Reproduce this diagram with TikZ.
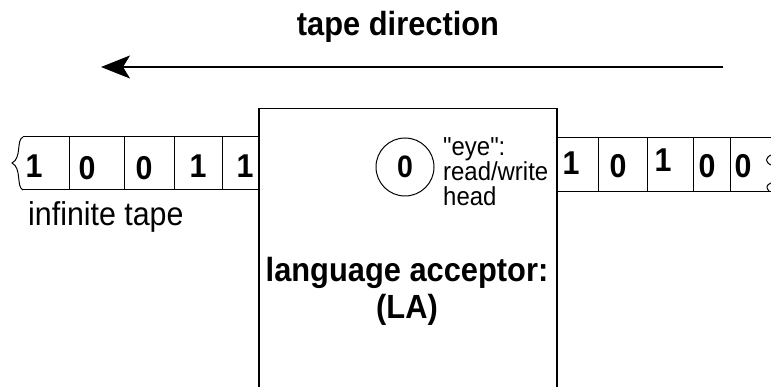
\documentclass[tikz,border=0pt]{standalone}
\usepackage{fontspec}
\setmainfont[Ligatures=TeXOff,FakeStretch=0.92]{Liberation Sans}
\usetikzlibrary{arrows.meta}
\begin{document}
\begin{tikzpicture}[x=1pt,y=-1pt,
  tapeline/.style={line width=1pt},
  boxline/.style={line width=1.5pt},
  digit/.style={font=\fontsize{33}{33}\selectfont\bfseries, inner sep=0pt, anchor=base},
  plaintext/.style={inner sep=0pt},
]
\useasboundingbox (0,0) rectangle (771,387);
\clip (0,0) rectangle (771,387);

% title and direction arrow
\node[plaintext, anchor=base, font=\fontsize{33.5}{37}\selectfont\bfseries] (title) at (398,36) {tape direction};
\coordinate (arrS) at (723,67);
\coordinate (arrE) at (101,67);
\draw[line width=1.5pt, -{Stealth[length=29pt,width=23pt,inset=7pt]}] (arrS) -- (arrE);

% language acceptor box (open at the bottom, runs off the picture)
\node[draw, boxline, minimum width=298pt, minimum height=300pt, anchor=north west, inner sep=0pt] (la) at (258,108) {};

% left tape
\draw[tapeline] (23,137) -- (la.west |- 0,137);
\draw[tapeline] (23,190) -- (la.west |- 0,190);
\foreach \x in {69,124,174,222} \draw[tapeline] (\x,137) -- (\x,190);
\draw[tapeline] (23,137) .. controls (16,140) and (22,158) .. (12,163) .. controls (22,168) and (16,187) .. (23,190);

% right tape
\draw[tapeline] (la.east |- 0,138) -- (771,138);
\draw[tapeline] (la.east |- 0,192) -- (771,192);
\foreach \x in {598,647,693,730} \draw[tapeline] (\x,138) -- (\x,192);
\draw[tapeline] (771,155) .. controls (765,158) and (765,162) .. (771,165);
\draw[tapeline] (771,183) .. controls (766,185) and (766,188) .. (769,191);

% tape symbols
\node[digit] (l1) at (34,178) {1};
\node[digit] (l2) at (87,180) {0};
\node[digit] (l3) at (144,180) {0};
\node[digit] (l4) at (198,178) {1};
\node[digit] (l5) at (245,178) {1};
\node[digit] (r1) at (571,175) {1};
\node[digit] (r2) at (618,178) {0};
\node[digit] (r3) at (663,172) {1};
\node[digit] (r4) at (707,178) {0};
\node[digit] (r5) at (743,178) {0};

\node[plaintext, anchor=base west, font=\fontsize{33}{37}\selectfont] (inf) at (28,226) {infinite tape};

% read/write head
\node[draw, circle, tapeline, minimum size=58pt, inner sep=0pt, font=\fontsize{31}{31}\selectfont\bfseries] (eye) at (405,167) {0};
\node[plaintext, anchor=north west, align=left, font=\fontsize{26}{25}\selectfont] (eyelbl) at (443,137) {"eye":\\read/write\\head};

% acceptor label
\node[plaintext, anchor=north, align=center, font=\fontsize{33.5}{37}\selectfont\bfseries] (lalbl) at (407,257) {language acceptor:\\(LA)};
\end{tikzpicture}
\end{document}
